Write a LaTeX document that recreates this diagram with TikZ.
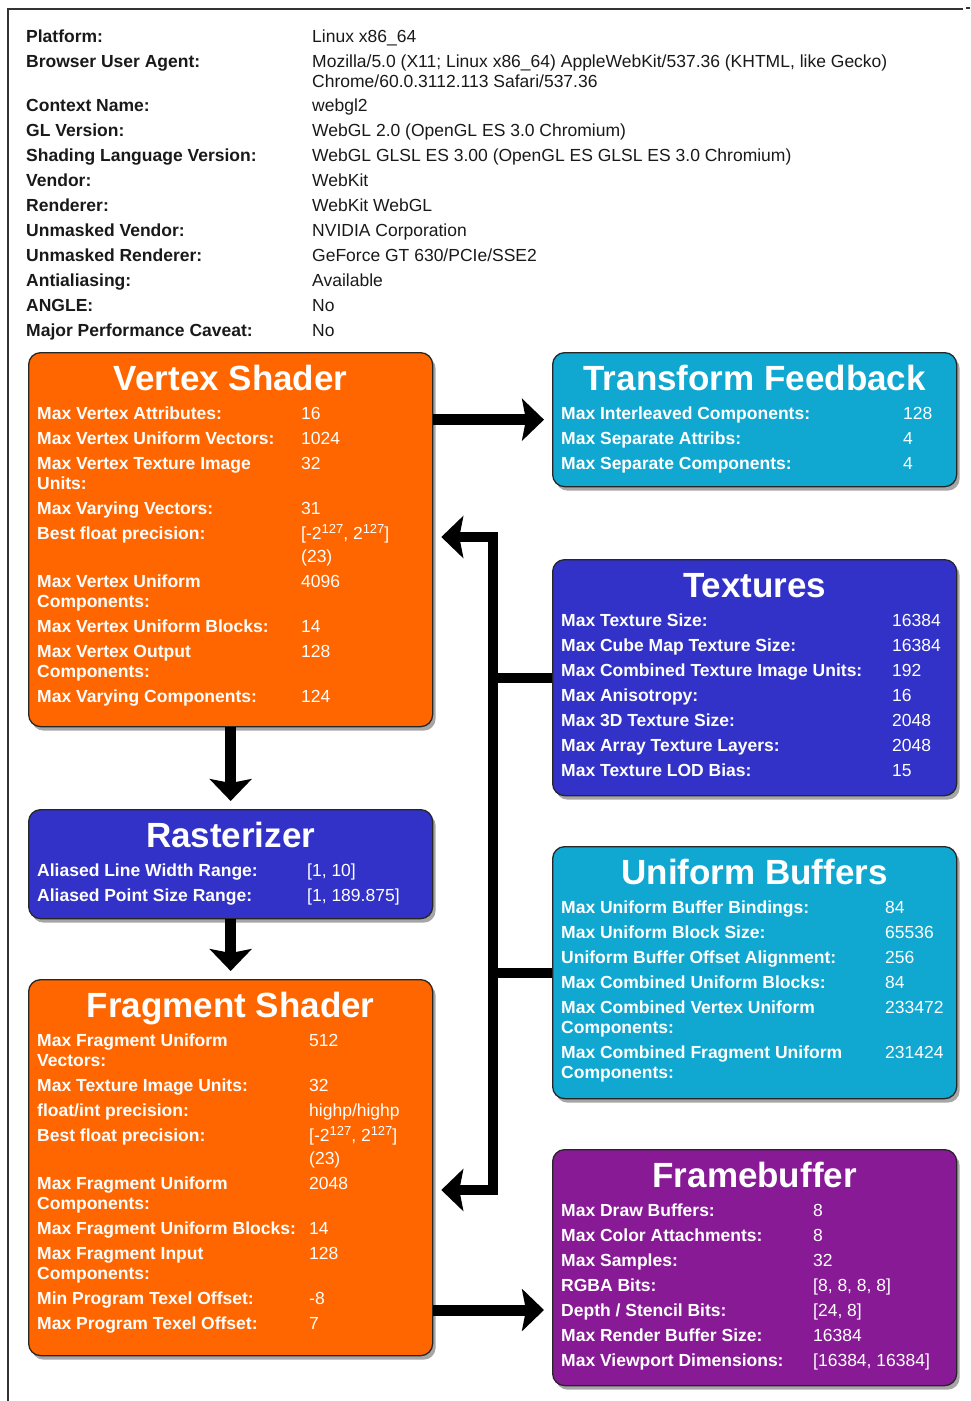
\documentclass[tikz,border=0pt]{standalone}
\usepackage{fontspec}
\setmainfont{Liberation Sans}
\usepackage{array}
\usetikzlibrary{arrows.meta,shadows,calc}
\definecolor{vsorange}{RGB}{255,102,0}
\definecolor{tfcyan}{RGB}{16,168,208}
\definecolor{rblue}{RGB}{50,50,200}
\definecolor{fbpurple}{RGB}{136,26,150}
\definecolor{infotext}{RGB}{25,25,25}
\newcommand\rowfont{\fontsize{17.5}{20}\selectfont}
\newcommand\boxtable[3]{\renewcommand\arraystretch{1.25}%
  \begin{tabular}{@{}>{\bfseries\raggedright\arraybackslash}p{#1}@{}>{\raggedright\arraybackslash}p{#2}@{}}#3\end{tabular}}
\newcommand\pw{\raisebox{6pt}{\fontsize{13}{13}\selectfont 127}}
\newcommand\precval{[-2\pw, 2\pw]\par\vspace{3.5pt}\noindent(23)}
\begin{document}
\begin{tikzpicture}[x=1pt,y=-1pt,
  panel/.style={draw=black!85, line width=1.3pt, rounded corners=12pt, anchor=north west, inner sep=0pt,
    drop shadow={shadow xshift=3pt, shadow yshift=-4pt, opacity=0.35, fill=black}},
  ttl/.style={anchor=base, text=white, font=\fontsize{35}{40}\selectfont\bfseries, inner sep=0pt},
  body/.style={anchor=north west, text=white, font=\rowfont, inner sep=0pt},
  flow/.style={line width=11pt, -{Stealth[length=22pt,width=42pt,inset=4pt]}, shorten >=8pt},
  busline/.style={line width=10pt, line join=miter}
]
\useasboundingbox (0,0) rectangle (970,1401);
% page frame
\draw[black!80, line width=1.3pt] (8,1401) -- (8,9) -- (963,9);
\draw[black!80, line width=1.3pt] (966,8) -- (970,8);

% top info table
\node[anchor=north west, inner sep=0pt, font=\rowfont, text=infotext] (info) at (26,24.5) {%
  \renewcommand\arraystretch{1.245}%
  \begin{tabular}{@{}>{\bfseries\raggedright\arraybackslash}p{286pt}@{}>{\raggedright\arraybackslash}p{630pt}@{}}
  Platform: & Linux x86\_64\\
  Browser User Agent: & Mozilla/5.0 (X11; Linux x86\_64) AppleWebKit/537.36 (KHTML, like Gecko)\newline Chrome/60.0.3112.113 Safari/537.36\\
  Context Name: & webgl2\\
  GL Version: & WebGL 2.0 (OpenGL ES 3.0 Chromium)\\
  Shading Language Version: & WebGL GLSL ES 3.00 (OpenGL ES GLSL ES 3.0 Chromium)\\
  Vendor: & WebKit\\
  Renderer: & WebKit WebGL\\
  Unmasked Vendor: & NVIDIA Corporation\\
  Unmasked Renderer: & GeForce GT 630/PCIe/SSE2\\
  Antialiasing: & Available\\
  ANGLE: & No\\
  Major Performance Caveat: & No
  \end{tabular}};

% panels
\node[panel, fill=vsorange, minimum width=404pt, minimum height=374pt] (vs) at (28,352) {};
\node[panel, fill=tfcyan, minimum width=404pt, minimum height=134pt] (tf) at (552,352) {};
\node[panel, fill=rblue, minimum width=404pt, minimum height=236pt] (tex) at (552,559) {};
\node[panel, fill=rblue, minimum width=404pt, minimum height=109pt] (ras) at (28,809) {};
\node[panel, fill=tfcyan, minimum width=404pt, minimum height=252pt] (ub) at (552,846) {};
\node[panel, fill=vsorange, minimum width=404pt, minimum height=376pt] (fs) at (28,979) {};
\node[panel, fill=fbpurple, minimum width=404pt, minimum height=236pt] (fb) at (552,1149) {};

% titles
\node[ttl] (vs-t) at ($(vs.north)+(0,38)$) {Vertex Shader};
\node[ttl] (tf-t) at ($(tf.north)+(0,38)$) {Transform Feedback};
\node[ttl] (tex-t) at ($(tex.north)+(0,38)$) {Textures};
\node[ttl] (ras-t) at ($(ras.north)+(0,38)$) {Rasterizer};
\node[ttl] (ub-t) at ($(ub.north)+(0,38)$) {Uniform Buffers};
\node[ttl] (fs-t) at ($(fs.north)+(0,38)$) {Fragment Shader};
\node[ttl] (fb-t) at ($(fb.north)+(0,38)$) {Framebuffer};

% bodies
\node[body] (vs-b) at ($(vs.north west)+(9,49.5)$) {\boxtable{264pt}{125pt}{%
  Max Vertex Attributes: & 16\\
  Max Vertex Uniform Vectors: & 1024\\
  Max Vertex Texture Image\newline Units: & 32\\
  Max Varying Vectors: & 31\\
  Best float precision: & \precval\\
  Max Vertex Uniform\newline Components: & 4096\\
  Max Vertex Uniform Blocks: & 14\\
  Max Vertex Output\newline Components: & 128\\
  Max Varying Components: & 124}};

\node[body] (tf-b) at ($(tf.north west)+(9,49.5)$) {\boxtable{342pt}{50pt}{%
  Max Interleaved Components: & 128\\
  Max Separate Attribs: & 4\\
  Max Separate Components: & 4}};

\node[body] (tex-b) at ($(tex.north west)+(9,49.5)$) {\boxtable{331pt}{60pt}{%
  Max Texture Size: & 16384\\
  Max Cube Map Texture Size: & 16384\\
  Max Combined Texture Image Units: & 192\\
  Max Anisotropy: & 16\\
  Max 3D Texture Size: & 2048\\
  Max Array Texture Layers: & 2048\\
  Max Texture LOD Bias: & 15}};

\node[body] (ras-b) at ($(ras.north west)+(9,49.5)$) {\boxtable{270pt}{120pt}{%
  Aliased Line Width Range: & [1, 10]\\
  Aliased Point Size Range: & [1, 189.875]}};

\node[body] (ub-b) at ($(ub.north west)+(9,49.5)$) {\boxtable{324pt}{70pt}{%
  Max Uniform Buffer Bindings: & 84\\
  Max Uniform Block Size: & 65536\\
  Uniform Buffer Offset Alignment: & 256\\
  Max Combined Uniform Blocks: & 84\\
  Max Combined Vertex Uniform\newline Components: & 233472\\
  Max Combined Fragment Uniform\newline Components: & 231424}};

\node[body] (fs-b) at ($(fs.north west)+(9,49.5)$) {\boxtable{272pt}{115pt}{%
  Max Fragment Uniform\newline Vectors: & 512\\
  Max Texture Image Units: & 32\\
  float/int precision: & highp/highp\\
  Best float precision: & \precval\\
  Max Fragment Uniform\newline Components: & 2048\\
  Max Fragment Uniform Blocks: & 14\\
  Max Fragment Input\newline Components: & 128\\
  Min Program Texel Offset: & -8\\
  Max Program Texel Offset: & 7}};

\node[body] (fb-b) at ($(fb.north west)+(9,49.5)$) {\boxtable{252pt}{140pt}{%
  Max Draw Buffers: & 8\\
  Max Color Attachments: & 8\\
  Max Samples: & 32\\
  RGBA Bits: & [8, 8, 8, 8]\\
  Depth / Stencil Bits: & [24, 8]\\
  Max Render Buffer Size: & 16384\\
  Max Viewport Dimensions: & [16384, 16384]}};

% connectors
\coordinate (bt) at (493,537);
\coordinate (bb) at (493,1190);
\coordinate (ff) at (0,1310);
\draw[flow] (vs.east |- tf.west) -- (tf.west);
\draw[flow] (vs.south) -- (ras.north);
\draw[flow] (ras.south) -- (fs.north);
\draw[flow] (fs.east |- ff) -- (fb.west |- ff);
\draw[busline] (tex.west) -- (tex.west -| bt);
\draw[busline] (ub.west) -- (ub.west -| bt);
\draw[busline, {Stealth[length=22pt,width=42pt,inset=4pt]}-{Stealth[length=22pt,width=42pt,inset=4pt]}, shorten <=8pt, shorten >=8pt]
  (vs.east |- bt) -- (bt) -- (bb) -- (fs.east |- bb);
\end{tikzpicture}
\end{document}
